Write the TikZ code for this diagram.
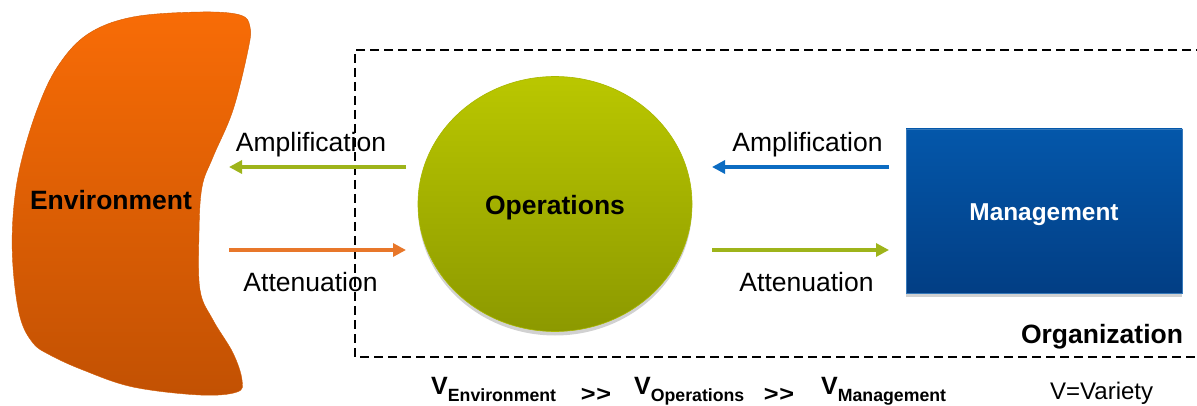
\documentclass[tikz,border=0pt]{standalone}
\usepackage{fontspec}
\setmainfont{Liberation Sans}
\usetikzlibrary{arrows.meta,shapes.geometric,shadows}
\definecolor{envtop}{HTML}{F86C06}
\definecolor{envbot}{HTML}{C25103}
\definecolor{opstop}{HTML}{BAC700}
\definecolor{opsbot}{HTML}{8C9900}
\definecolor{opsline}{HTML}{A8B700}
\definecolor{mgtop}{HTML}{0457AA}
\definecolor{mgbot}{HTML}{023E84}
\definecolor{agreen}{HTML}{9EB41A}
\definecolor{aorange}{HTML}{E8772A}
\definecolor{ablue}{HTML}{0C6CC2}
\tikzset{
  lbl/.style={font=\fontsize{26.5}{30}\selectfont, inner sep=0pt, anchor=base},
  bold/.style={font=\bfseries\fontsize{26.5}{30}\selectfont, inner sep=0pt, anchor=base},
  arr/.style={line width=3.2pt, -{Triangle[length=13pt,width=13pt]}},
  vexpr/.style={inner sep=0pt, anchor=base west, font=\bfseries},
  gg/.style={inner sep=0pt, anchor=base, font=\bfseries\fontsize{22}{24}\selectfont},
  softshadow/.style={drop shadow={shadow xshift=0pt, shadow yshift=-4pt, opacity=0.18, fill=black}}
}
\newcommand{\Vsub}[1]{{\fontsize{25}{26}\selectfont V}{\fontsize{17.7}{19}\selectfont\raisebox{-7pt}{#1}}}
\begin{document}
\begin{tikzpicture}[x=1pt,y=-1pt]
\useasboundingbox (0,0) rectangle (1197,406);
% environment shape
\shade[top color=envtop, bottom color=envbot, draw=envtop!85!black, line width=0.4pt]
  plot[smooth cycle, tension=0.6] coordinates {
  (88,34) (133,17) (200,12) (240,15) (250,27) (248,50) (233,110) (213,157)
  (202,187) (199,233) (200,290) (213,320) (233,353) (242,380) (237,392)
  (200,395) (133,387) (83,370) (50,355) (33,343) (20,317) (13,267) (13,217)
  (20,167) (37,110) (58,66)};
\node[bold] (env) at (111,210) {Environment};
% organization boundary
\draw[dashed, dash pattern=on 9pt off 5pt, line width=1.1pt] (1205,50) -- (355,50) -- (355,357) -- (1205,357);
\node[bold] (org) at (1102,343) {Organization};
% operations
\node[ellipse, minimum width=274pt, minimum height=255pt, inner sep=0pt,
  top color=opstop, bottom color=opsbot, draw=opsline, line width=0.6pt, softshadow] (opsc) at (555,204) {};
\node[bold] (ops) at (555,215) {Operations};
% management
\node[rectangle, minimum width=276pt, minimum height=164pt, inner sep=0pt,
  top color=mgtop, bottom color=mgbot, draw=mgtop!80!white, line width=0.4pt, softshadow] (mgbox) at (1044,211) {};
\node[font=\bfseries\fontsize{24.4}{28}\selectfont, text=white, inner sep=0pt, anchor=base] (mg) at (1044,221) {Management};
% arrow endpoints
\coordinate (l1s) at (406,167); \coordinate (l1e) at (229,167);
\coordinate (l2s) at (229,250); \coordinate (l2e) at (406,250);
\coordinate (r1s) at (889,167); \coordinate (r1e) at (712,167);
\coordinate (r2s) at (712,250); \coordinate (r2e) at (889,250);
\draw[arr, agreen] (l1s) -- (l1e);
\draw[arr, aorange] (l2s) -- (l2e);
\draw[arr, ablue] (r1s) -- (r1e);
\draw[arr, agreen] (r2s) -- (r2e);
\node[lbl] (ampL) at (311,152) {Amplification};
\node[lbl] (attL) at (310.5,291) {Attenuation};
\node[lbl] (ampR) at (807.5,152) {Amplification};
\node[lbl] (attR) at (806.5,291) {Attenuation};
% variety expression
\node[vexpr] (ve) at (431,394) {\Vsub{Environment}};
\node[gg] (g1) at (596,401) {\scalebox{1.15}[1]{>\kern0.5pt>}};
\node[vexpr] (vo) at (634,394) {\Vsub{Operations}};
\node[gg] (g2) at (779,401) {\scalebox{1.15}[1]{>\kern0.5pt>}};
\node[vexpr] (vm) at (821,394) {\Vsub{Management}};
\node[inner sep=0pt, anchor=base west, font=\fontsize{24}{26}\selectfont] (var) at (1050,399) {V=Variety};
\end{tikzpicture}
\end{document}
